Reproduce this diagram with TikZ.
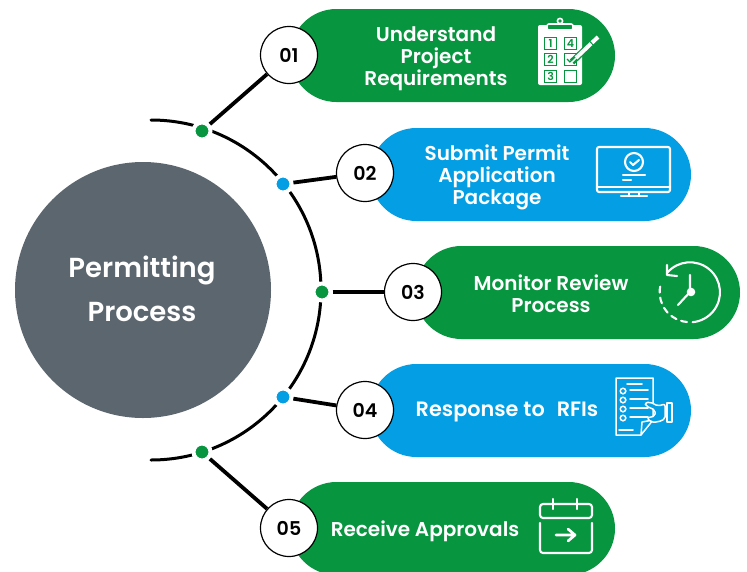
\documentclass[tikz,border=0pt]{standalone}
\usepackage{fontspec}
\setmainfont{Poppins}[BoldFont=Poppins SemiBold]
\usetikzlibrary{arrows.meta,positioning,shapes.misc}
\definecolor{pgreen}{HTML}{07953F}
\definecolor{pblue}{HTML}{039EE3}
\definecolor{pgrey}{HTML}{5C666F}

\begin{document}
\begin{tikzpicture}[x=1pt,y=-1pt]
       \tikzstyle{pill}=[rounded rectangle,minimum width=325pt,minimum height=93pt,inner sep=0pt]
       \tikzstyle{number}=[circle,draw=black,line width=1.2pt,fill=white,minimum size=57pt,inner sep=0pt,font=\fontsize{19}{19}\selectfont\bfseries]
       \tikzstyle{dot}=[circle,draw=white,line width=4pt,minimum size=17pt,inner sep=0pt]
       \tikzstyle{label}=[text=white,align=center,font=\fontsize{20}{22}\selectfont\bfseries]
       \tikzstyle{link}=[draw=black,line width=3.8pt]
       \tikzstyle{icon}=[draw=white,line width=2.1pt,line cap=round,line join=round]

       \useasboundingbox (0,0) rectangle (747,571);

       \node[circle,fill=pgrey,minimum size=256pt,inner sep=0pt] (core) at (143,290) {};
       \node[text=white,align=center,font=\fontsize{27.5}{44}\selectfont\bfseries] (core_text) at (142,289) {Permitting\\Process};

       \node[pill,fill=pgreen,minimum width=325pt] (pill_1) at (452.5,55.5) {};
       \node[pill,fill=pblue,minimum width=321pt]  (pill_2) at (530.5,174.5) {};
       \node[pill,fill=pgreen,minimum width=325pt] (pill_3) at (577.5,292.5) {};
       \node[pill,fill=pblue,minimum width=321pt]  (pill_4) at (530.5,410.5) {};
       \node[pill,fill=pgreen,minimum width=325pt] (pill_5) at (452.5,528.5) {};

       \node[label] (text_1) at (436,59)  {Understand\\Project\\Requirements};
       \node[label] (text_2) at (497,177) {Submit Permit\\Application\\Package};
       \node[label] (text_3) at (551,294) {Monitor Review\\Process};
       \node[label,font=\fontsize{20.8}{22}\selectfont\bfseries] (text_4) at (507,412) {Response to\hspace{7pt} RFIs};
       \node[label] (text_5) at (425,531) {Receive Approvals};

       % the big arc goes under the dots
       \draw[line width=3pt,line cap=round] (151,120) arc[start angle=-90,end angle=90,radius=170];

       \node[dot,fill=pgreen] (dot_1) at (202,131) {};
       \node[dot,fill=pblue]  (dot_2) at (283,184) {};
       \node[dot,fill=pgreen] (dot_3) at (322,292) {};
       \node[dot,fill=pblue]  (dot_4) at (283,397) {};
       \node[dot,fill=pgreen] (dot_5) at (202,452) {};

       \node[number] (num_1) at (289,55)  {01};
       \node[number] (num_2) at (365,173) {02};
       \node[number] (num_3) at (413,292) {03};
       \node[number] (num_4) at (365,410) {04};
       \node[number] (num_5) at (289,528) {05};

       \path[link]
       (dot_1) edge (num_1)
       (dot_2) edge (num_2)
       (dot_3) edge (num_3)
       (dot_4) edge (num_4)
       (dot_5) edge (num_5);

       % clipboard
       \fill[white,rounded corners=2pt] (538,25) rectangle (582,85);
       \draw[white,fill=pgreen,line width=1.6pt,rounded corners=2pt] (547,24) -- (547,30) -- (573,30) -- (573,24) -- cycle;
       \draw[white,fill=pgreen,line width=1.6pt] (560,21) circle (2.6);
       \foreach \bx/\by/\digit in {544/37/1,564/37/4,544/53/2,544/70/3,564/53/{},564/70/{}}{
         \node[draw=pgreen,line width=1.1pt,minimum size=12pt,inner sep=0pt,anchor=north west,text=pgreen,
               font=\fontsize{11}{11}\selectfont\bfseries] (box_\bx_\by) at (\bx,\by) {\digit};
       }
       \draw[pgreen,line width=1.2pt] (567,59) -- (570,62) -- (575,57);
       \draw[pgreen,line width=6.5pt] (572,62) -- (598,37);
       \draw[white,line width=4pt] (576,58) -- (598,37);
       \draw[pgreen,line width=1pt] (590,41.5) -- (594,46);
       \draw[white,line width=1.4pt] (576,58) -- (570,64);

       % monitor
       \draw[icon,rounded corners=2pt] (597,147) rectangle (670,192);
       \draw[icon] (597,187) -- (670,187);
       \draw[icon] (629,192) -- (629,196) (639,192) -- (639,196);
       \draw[icon] (621,196) -- (647,196);
       \draw[icon] (634,162) circle (9);
       \draw[icon] (630,162) -- (633,165) -- (639,160);
       \draw[icon] (623,175) -- (645,175);
       \draw[icon] (623,180) -- (631,180);

       % clock
       \draw[icon] (667,273) arc[start angle=-140,end angle=85,radius=30];
       \draw[icon,dash pattern=on 6pt off 5pt] (687,322) arc[start angle=95,end angle=195,radius=30];
       \draw[icon] (667,265) -- (667,275) -- (677,276);
       \fill[white] (691,292) circle (4.3);
       \draw[icon] (690,275) -- (690,292) -- (678,305);

       % document with a hand
       \draw[icon,line width=1.5pt] (641,435) -- (616,435) -- (616,378) -- (653,378) -- (653,420) -- (641,435) -- (642,422) -- (653,420);
       \draw[icon,line width=1.5pt] (627,384) -- (642,384);
       \foreach \ly in {391,400,409,418}{
         \draw[icon,line width=1.5pt] (623,\ly) circle (2.8);
         \draw[icon,line width=1.5pt] (630,\ly-1) -- (648,\ly-1);
       }
       \draw[icon,line width=1.5pt] (619,430) -- (633,430);
       \draw[icon,line width=1.5pt,fill=pblue,rounded corners=2pt] (665,404) -- (658,406) -- (650,402) -- (645,403) -- (646,406) -- (655,410) -- (655,416) -- (647,418) -- (651,422) -- (658,422) -- (665,419) -- cycle;
       \draw[icon,line width=1.5pt,fill=pblue] (667,403) rectangle (672,422);

       % calendar
       \draw[icon,rounded corners=3pt] (540,518) -- (540,504) -- (592,504) -- (592,518) -- cycle;
       \draw[icon] (553,499) -- (553,509) (577,499) -- (577,509);
       \draw[icon,rounded corners=3pt] (540,523) -- (540,553) -- (592,553) -- (592,523);
       \draw[icon,line width=2.7pt] (556,535) -- (574,535) (568,529) -- (575,535) -- (568,541);
     \end{tikzpicture}
\end{document}
